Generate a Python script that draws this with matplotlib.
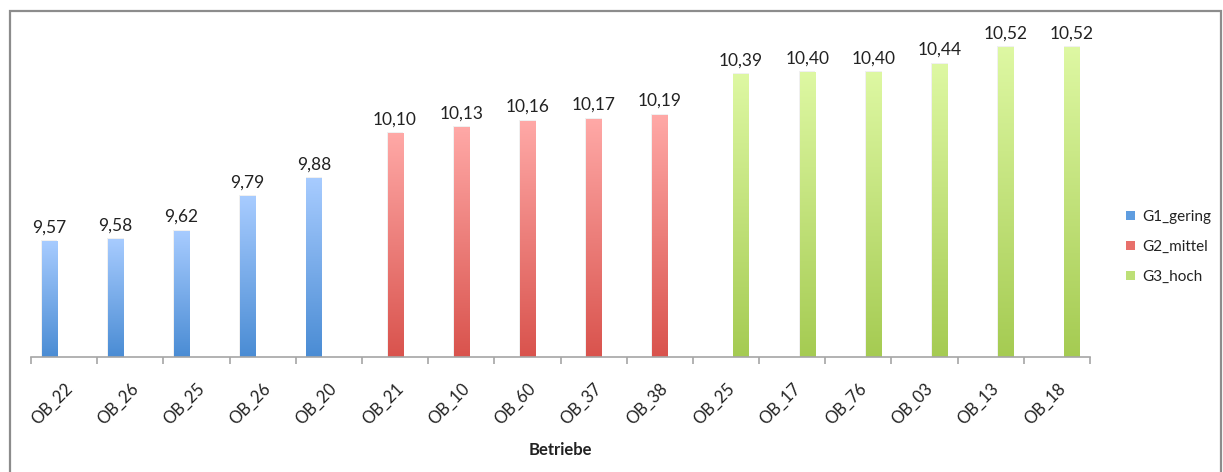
import numpy as np
import matplotlib.pyplot as plt
from matplotlib.colors import LinearSegmentedColormap
from matplotlib.patches import Rectangle, Patch

plt.rcParams['font.family'] = ['Lato', 'DejaVu Sans']

betriebe = ['OB_22', 'OB_26', 'OB_25', 'OB_26', 'OB_20',
            'OB_21', 'OB_10', 'OB_60', 'OB_37', 'OB_38',
            'OB_25', 'OB_17', 'OB_76', 'OB_03', 'OB_13', 'OB_18']
gruppe = [0, 0, 0, 0, 0, 1, 1, 1, 1, 1, 2, 2, 2, 2, 2, 2]
werte = [9.57, 9.58, 9.62, 9.79, 9.88,
         10.10, 10.13, 10.16, 10.17, 10.19,
         10.39, 10.40, 10.40, 10.44, 10.52, 10.52]
serien = ['G1_gering', 'G2_mittel', 'G3_hoch']

# (top colour, bottom colour) of each series gradient
farben = [('#a8ccff', '#4a8cd4'),
          ('#ffa9a7', '#d9534d'),
          ('#def8a3', '#a5cb52')]
legend_farben = ['#5f9de0', '#e8706b', '#bde077']
textfarbe = '#222222'

W, H = 1223, 472
fig = plt.figure(figsize=(W / 100, H / 100), dpi=100)
ax = fig.add_axes([31 / W, 1 - 357 / H, (1090 - 31) / W, (357 - 31) / H])

# outer chart frame
fig.patches.append(Rectangle((10.5 / W, -0.1), (1221 - 10.5) / W, 1 - 10.5 / H + 0.1,
                             transform=fig.transFigure, fill=False,
                             edgecolor='#8c8c8c', linewidth=1.6))

ymin, ymax = 9.0, 10.6
bw = 0.227
x = np.arange(len(betriebe))

for i, (v, g) in enumerate(zip(werte, gruppe)):
    xpos = x[i] + (g - 1) * bw
    # soft shadow
    ax.add_patch(Rectangle((xpos - bw / 2 - 0.012, ymin), bw + 0.024, v - ymin + 0.004,
                           facecolor='#000000', alpha=0.06, edgecolor='none', zorder=1))
    bar = ax.bar(xpos, v - ymin, bottom=ymin, width=bw, color='none',
                 edgecolor='none', zorder=2)[0]
    cmap = LinearSegmentedColormap.from_list('g%d' % g, [farben[g][1], farben[g][0]])
    grad = np.linspace(0, 1, 256).reshape(-1, 1)
    im = ax.imshow(grad, cmap=cmap, origin='lower', aspect='auto',
                   extent=(xpos - bw / 2, xpos + bw / 2, ymin, v), zorder=2)
    im.set_clip_path(bar)
    ax.annotate(f'{v:.2f}'.replace('.', ','), (xpos, v), xytext=(0, 4),
                textcoords='offset points', ha='center', va='bottom',
                fontsize=12.5, color=textfarbe)

ax.set_xlim(-0.5, len(betriebe) - 0.5)
ax.set_ylim(ymin, ymax)

for s in ['top', 'right', 'left']:
    ax.spines[s].set_visible(False)
ax.spines['bottom'].set_color('#a6a6a6')
ax.spines['bottom'].set_linewidth(1.2)
ax.set_yticks([])

ax.set_xticks(x)
ax.set_xticklabels(betriebe, rotation=45, ha='right', rotation_mode='anchor',
                   fontsize=12, color=textfarbe)
ax.tick_params(axis='x', which='major', length=0, pad=17)
ax.set_xticks(np.arange(-0.5, len(betriebe)), minor=True)
ax.tick_params(axis='x', which='minor', length=5, width=1.2, color='#a6a6a6')

ax.set_xlabel('Betriebe', fontsize=12, fontweight='bold', color=textfarbe)
ax.xaxis.set_label_coords(0.5, -0.262)

handles = [Patch(facecolor=c, edgecolor='none') for c in legend_farben]
fig.legend(handles, serien, loc='upper left', bbox_to_anchor=(1112 / W, 1 - 196 / H),
           frameon=False, fontsize=11, handlelength=0.6, handleheight=0.6,
           handletextpad=0.5, labelspacing=1.05, labelcolor=textfarbe)

fig.savefig('out.png', dpi=100)
